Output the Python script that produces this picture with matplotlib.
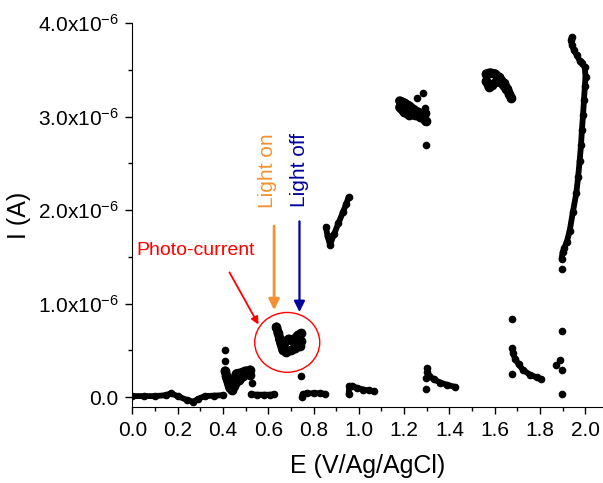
import matplotlib
matplotlib.use("Agg")
from matplotlib import pyplot as plt
from matplotlib.patches import Ellipse

plt.rcParams['font.family'] = ['Liberation Sans', 'DejaVu Sans']
plt.rcParams['mathtext.fontset'] = 'custom'
plt.rcParams['mathtext.rm'] = 'Liberation Sans'
plt.rcParams['mathtext.default'] = 'regular'

# E in V, I in uA (scaled by 1e-6 when plotted)
base_E = [0.00, 0.05, 0.10, 0.15, 0.17, 0.20, 0.24, 0.27, 0.29, 0.32, 0.36, 0.40]
base_I = [0.01, 0.01, 0.01, 0.02, 0.04, 0.01, -0.03, -0.05, -0.02, 0.01, 0.015, 0.02]

c1a_E = [0.41, 0.42, 0.43, 0.44, 0.45, 0.47, 0.49, 0.51, 0.52]
c1a_I = [0.28, 0.20, 0.12, 0.07, 0.12, 0.18, 0.22, 0.26, 0.29]
c1b_E = [0.415, 0.43, 0.45, 0.46, 0.48, 0.50, 0.52]
c1b_I = [0.22, 0.10, 0.18, 0.25, 0.26, 0.28, 0.24]

flat1_E = [0.525, 0.55, 0.58, 0.61, 0.625]
flat1_I = [0.03, 0.025, 0.025, 0.025, 0.03]

ph1_E = [0.636, 0.645, 0.655, 0.665, 0.68, 0.70, 0.72, 0.74, 0.745]
ph1_I = [0.75, 0.68, 0.58, 0.50, 0.48, 0.50, 0.52, 0.55, 0.60]
ph2_E = [0.65, 0.67, 0.69, 0.71, 0.73, 0.745]
ph2_I = [0.62, 0.58, 0.62, 0.60, 0.66, 0.68]

flat2_E = [0.748, 0.752, 0.77, 0.80, 0.83, 0.85]
flat2_I = [0.0, 0.03, 0.04, 0.04, 0.04, 0.035]

chk_E = [0.855, 0.862, 0.873, 0.89, 0.91, 0.93, 0.945, 0.955]
chk_I = [1.82, 1.72, 1.63, 1.74, 1.86, 1.98, 2.07, 2.14]

dec1_E = [0.955, 0.958, 0.97, 0.99, 1.02, 1.045, 1.065]
dec1_I = [0.03, 0.12, 0.12, 0.10, 0.08, 0.07, 0.06]

c8a_E = [1.18, 1.20, 1.22, 1.24, 1.26, 1.28, 1.295]
c8a_I = [3.17, 3.15, 3.12, 3.08, 3.05, 3.00, 2.95]
c8b_E = [1.18, 1.20, 1.22, 1.25, 1.27, 1.29]
c8b_I = [3.10, 3.05, 3.02, 3.02, 3.00, 3.04]

dec2_E = [1.301, 1.303, 1.31, 1.33, 1.36, 1.39, 1.423]
dec2_I = [0.31, 0.27, 0.23, 0.19, 0.155, 0.13, 0.11]

c10a_E = [1.563, 1.58, 1.60, 1.62, 1.64, 1.655, 1.665, 1.674]
c10a_I = [3.46, 3.47, 3.46, 3.42, 3.36, 3.30, 3.24, 3.20]
c10b_E = [1.563, 1.575, 1.59, 1.61, 1.63, 1.65]
c10b_I = [3.38, 3.32, 3.34, 3.38, 3.36, 3.30]

dec3_E = [1.678, 1.680, 1.69, 1.705, 1.725, 1.755, 1.785, 1.806]
dec3_I = [0.52, 0.47, 0.41, 0.35, 0.29, 0.24, 0.21, 0.19]

tall_E = [1.895, 1.900, 1.908, 1.918, 1.931, 1.945, 1.960, 1.968, 1.975, 1.981, 1.985,
          1.990, 1.994, 1.998, 2.001, 1.997, 1.986, 1.975, 1.962, 1.950, 1.940, 1.936, 1.940]
tall_I = [1.48, 1.55, 1.60, 1.66, 1.78, 1.98, 2.18, 2.35, 2.53, 2.70, 2.86,
          3.02, 3.18, 3.33, 3.43, 3.53, 3.57, 3.60, 3.66, 3.71, 3.77, 3.82, 3.85]

iso_E = [0.41, 0.41, 0.53, 0.746, 1.282, 1.255, 1.291, 1.295, 1.295, 1.295,
         1.676, 1.676, 1.872, 1.887, 1.895, 1.895, 1.895, 1.895]
iso_I = [0.50, 0.385, 0.15, 0.22, 3.25, 3.20, 3.09, 2.70, 0.20, 0.09,
         0.83, 0.25, 0.34, 0.40, 0.71, 0.29, 0.03, 1.37]

# thin traces and the blobby clusters
traces = [(base_E, base_I), (flat1_E, flat1_I), (flat2_E, flat2_I), (chk_E, chk_I),
          (dec1_E, dec1_I), (dec2_E, dec2_I), (dec3_E, dec3_I), (tall_E, tall_I)]
clusters = [(c1a_E, c1a_I), (c1b_E, c1b_I), (ph1_E, ph1_I), (ph2_E, ph2_I),
            (c8a_E, c8a_I), (c8b_E, c8b_I), (c10a_E, c10a_I), (c10b_E, c10b_I)]

yticks = [0.0, 1.0, 2.0, 3.0, 4.0]
ytick_labels = ['0.0', r'1.0x10$^{-6}$', r'2.0x10$^{-6}$', r'3.0x10$^{-6}$', r'4.0x10$^{-6}$']
xticks = [0.0, 0.2, 0.4, 0.6, 0.8, 1.0, 1.2, 1.4, 1.6, 1.8, 2.0]

fig = plt.figure(figsize=(6.03, 4.83), dpi=100)
ax = fig.add_axes([0.2194, 0.1567, 0.7806, 0.7951])

for E, I in traces:
    ax.plot(E, [v * 1e-6 for v in I], '-o', color='black', lw=4.2, ms=4.5,
            solid_capstyle='round', solid_joinstyle='round')
for E, I in clusters:
    ax.plot(E, [v * 1e-6 for v in I], '-o', color='black', lw=6.5, ms=6,
            solid_capstyle='round', solid_joinstyle='round')
ax.plot(iso_E, [v * 1e-6 for v in iso_I], 'o', color='black', ms=4.5, ls='none')

ax.set_xlim(0, 2.078)
ax.set_ylim(-0.11e-6, 4.0e-6)
ax.spines['top'].set_visible(False)
ax.spines['right'].set_visible(False)
ax.set_xticks(xticks)
ax.set_xticklabels(['%.1f' % t for t in xticks])
ax.set_xticks([0.1 + 0.2 * k for k in range(10)], minor=True)
ax.set_yticks([t * 1e-6 for t in yticks])
ax.set_yticklabels(ytick_labels)
ax.set_yticks([0.5e-6, 1.5e-6, 2.5e-6, 3.5e-6], minor=True)
ax.tick_params(which='major', length=5, width=1, labelsize=15, pad=5)
ax.tick_params(which='minor', length=3, width=1)
ax.set_xlabel('E (V/Ag/AgCl)', fontsize=18, labelpad=10)
ax.set_ylabel('I (A)', fontsize=18, labelpad=5)

# annotations
ax.add_patch(Ellipse((0.684, 0.585e-6), 0.287, 0.64e-6, fill=False, ec='red', lw=1))
ax.annotate('', xy=(0.563, 0.75e-6), xytext=(0.423, 1.36e-6),
            arrowprops=dict(arrowstyle='-|>', color='red', lw=1.3, mutation_scale=11))
ax.text(0.017, 1.57e-6, 'Photo-current', color='red', fontsize=14, va='center', ha='left')

ax.annotate('', xy=(0.626, 0.9e-6), xytext=(0.626, 1.86e-6),
            arrowprops=dict(arrowstyle='-|>', color='#F39233', lw=2, mutation_scale=16))
ax.text(0.599, 2.42e-6, 'Light on', color='#F39233', fontsize=15, rotation=90,
        ha='center', va='center')
ax.annotate('', xy=(0.738, 0.88e-6), xytext=(0.738, 1.91e-6),
            arrowprops=dict(arrowstyle='-|>', color='#00009C', lw=1.6, mutation_scale=16))
ax.text(0.740, 2.43e-6, 'Light off', color='#00009C', fontsize=15, rotation=90,
        ha='center', va='center')

plt.savefig('out.png', dpi=100)
